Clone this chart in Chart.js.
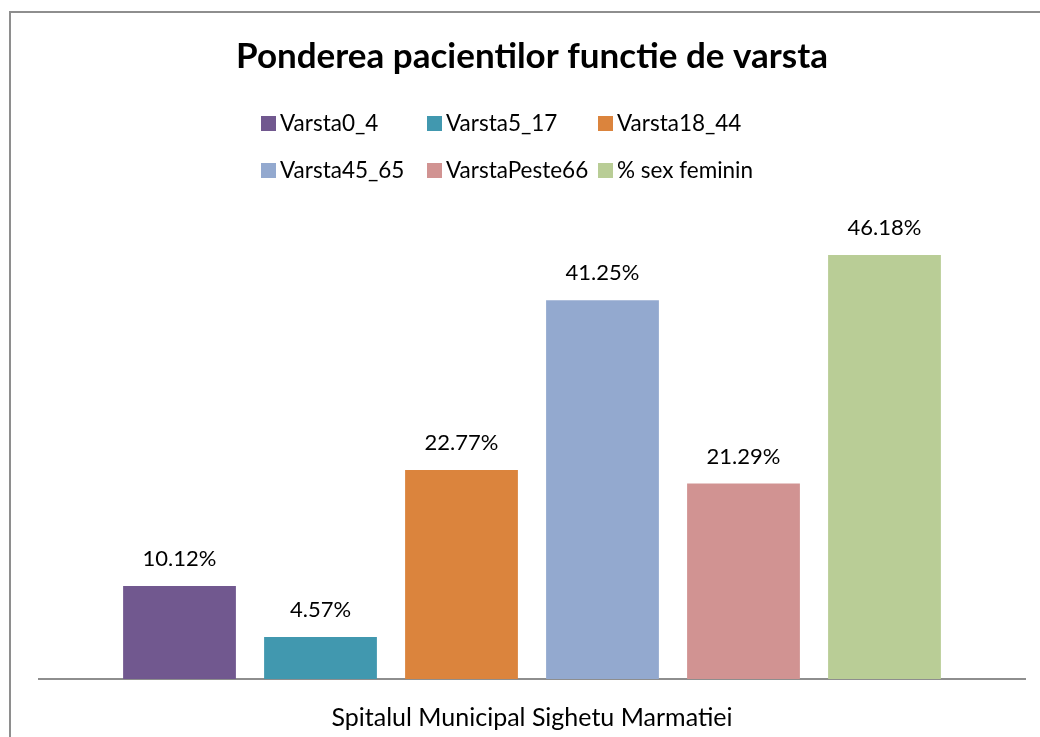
<!DOCTYPE html>
<html>
<head>
<meta charset="utf-8">
<script src="https://cdn.jsdelivr.net/npm/chart.js@4/dist/chart.umd.min.js"></script>
<style>
  html, body { margin: 0; padding: 0; background: #fff; }
  #wrap { width: 1040px; height: 737px; position: relative; }
</style>
</head>
<body>
<div id="wrap"><canvas id="ageChart"></canvas></div>
<script>
// values
const category = ['Spitalul Municipal Sighetu Marmatiei'];
const seriesNames = ['Varsta0_4', 'Varsta5_17', 'Varsta18_44', 'Varsta45_65', 'VarstaPeste66', '% sex feminin'];
const seriesValues = [10.12, 4.57, 22.77, 41.25, 21.29, 46.18];
const seriesColors = ['#71588F', '#4198AF', '#DB843D', '#93A9CF', '#D19392', '#B9CD96'];

const fontName = 'Lato, "Open Sans", sans-serif';

// outer frame like the office chart border
const framePlugin = {
    id: 'frame',
    beforeDraw(chart) {
        const ctx = chart.ctx;
        ctx.save();
        ctx.fillStyle = '#fff';
        ctx.fillRect(0, 0, chart.width, chart.height);
        ctx.strokeStyle = '#8e8e8e';
        ctx.lineWidth = 2;
        ctx.strokeRect(10, 12, chart.width + 20, chart.height + 20);
        ctx.restore();
    }
};

// percent labels above each bar
const valueLabels = {
    id: 'valueLabels',
    afterDatasetsDraw(chart) {
        const ctx = chart.ctx;
        ctx.save();
        ctx.font = '22px ' + fontName;
        ctx.fillStyle = '#000';
        ctx.textAlign = 'center';
        ctx.textBaseline = 'middle';
        chart.data.datasets.forEach((ds, i) => {
            const bar = chart.getDatasetMeta(i).data[0];
            ctx.fillText(ds.data[0].toFixed(2) + '%', bar.x, bar.y - 27);
        });
        ctx.restore();
    }
};

// legend in a 3 column grid
const gridLegend = {
    id: 'gridLegend',
    afterDraw(chart) {
        const ctx = chart.ctx;
        const cols = [261, 427, 598];
        const rows = [123, 170];
        ctx.save();
        ctx.font = '22.5px ' + fontName;
        ctx.textBaseline = 'middle';
        chart.data.datasets.forEach((ds, i) => {
            const x = cols[i % 3];
            const y = rows[Math.floor(i / 3)];
            ctx.fillStyle = ds.backgroundColor;
            ctx.fillRect(x, y - 7, 15, 15);
            ctx.fillStyle = '#000';
            ctx.fillText(ds.label, x + 19, y + 1);
        });
        ctx.restore();
    }
};

const datasets = seriesNames.map((name, i) => ({
    label: name,
    data: [seriesValues[i]],
    backgroundColor: seriesColors[i],
    borderWidth: 0,
    barPercentage: 0.8,
    categoryPercentage: 0.858
}));

new Chart('ageChart', {
    type: 'bar',
    data: {
        labels: category,
        datasets: datasets
    },
    options: {
        responsive: true,
        maintainAspectRatio: false,
        animation: false,
        layout: {
            padding: { left: 39, right: 15, top: 0, bottom: 0 }
        },
        scales: {
            x: {
                grid: { display: false },
                border: { display: true, color: '#8e8e8e', width: 2 },
                ticks: { color: '#000', font: { family: fontName, size: 25 }, padding: 16 },
                afterFit(scale) {
                    scale.height = 58;
                }
            },
            y: {
                display: false,
                min: 0,
                max: 50
            }
        },
        plugins: {
            legend: { display: false },
            tooltip: { enabled: false },
            title: {
                display: true,
                text: 'Ponderea pacientilor functie de varsta',
                color: '#000',
                font: { family: fontName, size: 35, weight: 'bold', lineHeight: 1.2 },
                padding: { top: 36, bottom: 142 }
            }
        }
    },
    plugins: [framePlugin, valueLabels, gridLegend]
});
</script>
</body>
</html>
